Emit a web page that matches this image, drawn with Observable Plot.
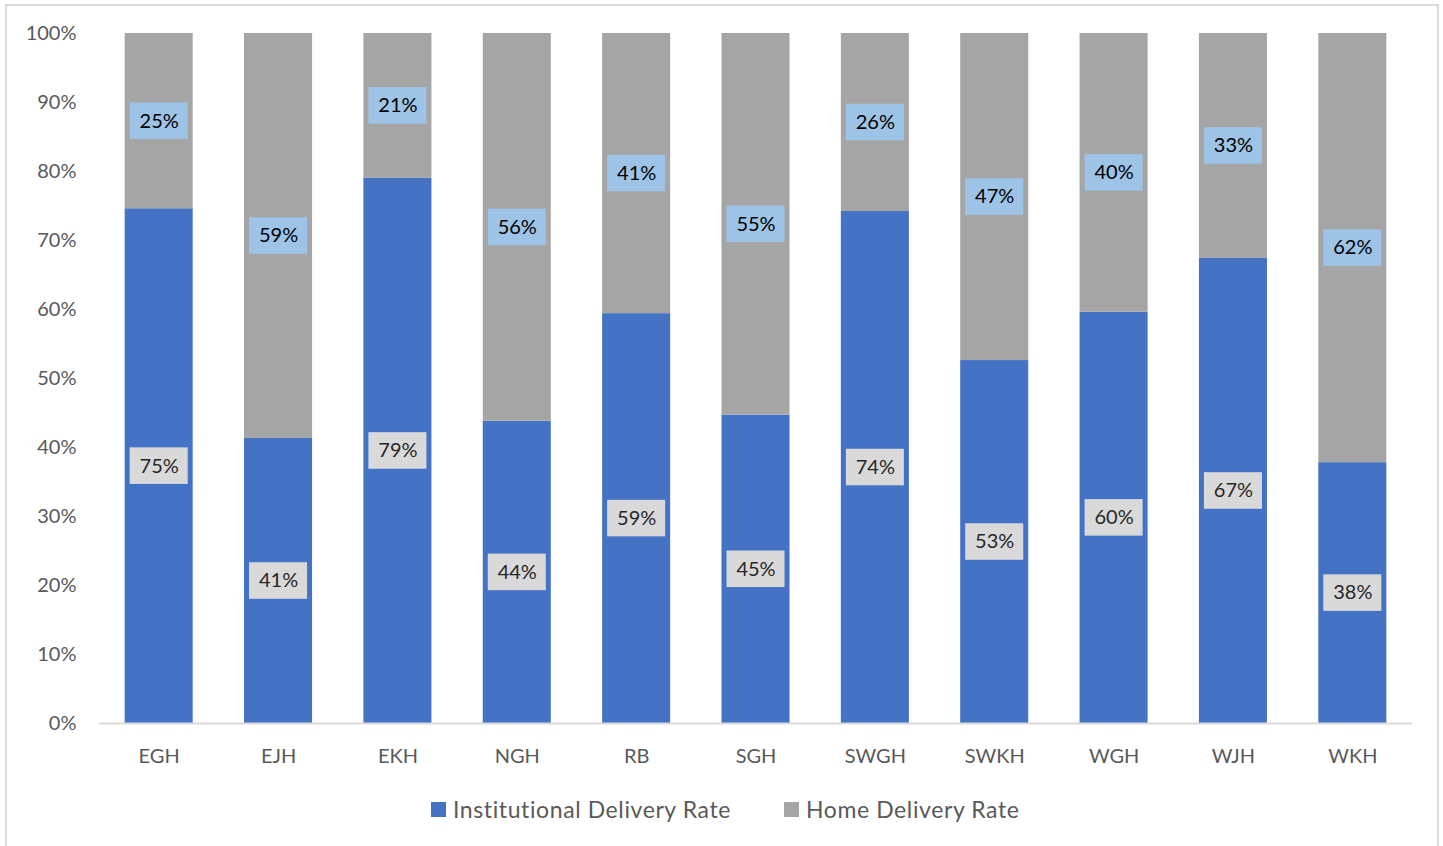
<!DOCTYPE html>
<html>
<head>
<meta charset="utf-8">
<script src="https://cdn.jsdelivr.net/npm/d3@7"></script>
<script src="https://cdn.jsdelivr.net/npm/@observablehq/plot@0.6"></script>
<style>
  body { margin: 0; background: #fff; font-family: Lato, sans-serif; }
  #wrap { position: relative; width: 1443px; height: 846px; overflow: hidden; }
  #frame { position: absolute; left: 5px; top: 4px; width: 1434px; height: 900px; border: 2px solid #d9d9d9; box-sizing: border-box; pointer-events: none; }
  #chart { position: absolute; left: 0; top: 0; }
  #legend { position: absolute; left: 431px; top: 795px; display: flex; align-items: center; font-size: 23px; letter-spacing: 0.6px; color: #595959; white-space: nowrap; }
  .sw { width: 15px; height: 15px; display: inline-block; margin-right: 7px; }
  .item { display: flex; align-items: center; }
</style>
</head>
<body>
<div id="wrap">
  <div id="chart"></div>
  <div id="legend"></div>
  <div id="frame"></div>
</div>
<script>
const hospitals = ["EGH", "EJH", "EKH", "NGH", "RB", "SGH", "SWGH", "SWKH", "WGH", "WJH", "WKH"];
const institutional = [74.6, 41.3, 79.0, 43.8, 59.4, 44.7, 74.2, 52.6, 59.6, 67.4, 37.8];
const home = [25.4, 58.7, 21.0, 56.2, 40.6, 55.3, 25.8, 47.4, 40.4, 32.6, 62.2];
const seriesNames = ["Institutional Delivery Rate", "Home Delivery Rate"];
const seriesColors = ["#4472c4", "#a5a5a5"];
const yTicks = [0, 10, 20, 30, 40, 50, 60, 70, 80, 90, 100];

const rows = [];
hospitals.forEach((h, i) => {
  rows.push({hospital: h, series: seriesNames[0], value: institutional[i]});
  rows.push({hospital: h, series: seriesNames[1], value: home[i]});
});

const instLabels = hospitals.map((h, i) => ({hospital: h, value: institutional[i], mid: institutional[i] / 2}));
const homeLabels = hospitals.map((h, i) => ({hospital: h, value: home[i], mid: institutional[i] + home[i] / 2}));
const boxHalf = 2.65;

const chart = Plot.plot({
  width: 1443,
  height: 780,
  marginTop: 33,
  marginBottom: 57,
  marginLeft: 99,
  marginRight: 31,
  style: {fontFamily: "Lato, sans-serif", fontSize: "20px", color: "#595959", background: "transparent"},
  x: {domain: hospitals, paddingInner: 0.43, paddingOuter: 0.215, round: false, label: null},
  y: {domain: [0, 100], label: null},
  color: {domain: seriesNames, range: seriesColors},
  marks: [
    Plot.barY(rows, Plot.stackY({x: "hospital", y: "value", fill: "series", order: null})),
    Plot.ruleY([0], {stroke: "#d9d9d9", strokeWidth: 2}),
    Plot.barY(instLabels, {x: "hospital", y1: d => d.mid - boxHalf, y2: d => d.mid + boxHalf, fill: "#d9d9d9", insetLeft: 5, insetRight: 5}),
    Plot.barY(homeLabels, {x: "hospital", y1: d => d.mid - boxHalf, y2: d => d.mid + boxHalf, fill: "#9dc3e6", insetLeft: 5, insetRight: 5}),
    Plot.text(instLabels, {x: "hospital", y: "mid", text: d => Math.round(d.value) + "%", fontSize: 20, fill: "#262626"}),
    Plot.text(homeLabels, {x: "hospital", y: "mid", text: d => Math.round(d.value) + "%", fontSize: 20, fill: "#000000"}),
    Plot.axisY({ticks: yTicks, tickSize: 0, tickPadding: 23, tickFormat: d => d + "%", fontSize: 20, label: null}),
    Plot.axisX({tickSize: 0, tickPadding: 25, fontSize: 20, label: null})
  ]
});
document.getElementById("chart").appendChild(chart);

const legend = document.getElementById("legend");
seriesNames.forEach((name, i) => {
  const item = document.createElement("div");
  item.className = "item";
  if (i > 0) item.style.marginLeft = "53px";
  const sw = document.createElement("span");
  sw.className = "sw";
  sw.style.background = seriesColors[i];
  const label = document.createElement("span");
  label.textContent = name;
  item.appendChild(sw);
  item.appendChild(label);
  legend.appendChild(item);
});
</script>
</body>
</html>
